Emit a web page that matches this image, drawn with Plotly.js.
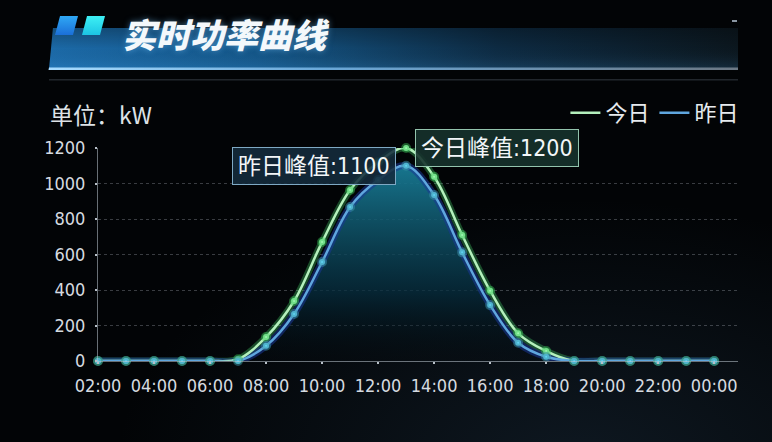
<!DOCTYPE html>
<html>
<head>
<meta charset="utf-8">
<script src="https://cdn.plot.ly/plotly-3.0.1.min.js"></script>
<style>
  html, body { margin: 0; padding: 0; background: #020406; }
  #chart { width: 772px; height: 442px; }
</style>
</head>
<body>
<div id="chart"></div>
<script>
// hourly points, 02:00 through midnight
const hours = ["02:00", "03:00", "04:00", "05:00", "06:00", "07:00", "08:00", "09:00", "10:00", "11:00", "12:00", "13:00",
  "14:00", "15:00", "16:00", "17:00", "18:00", "19:00", "20:00", "21:00", "22:00", "23:00", "00:00"];
const today = [0, 0, 0, 0, 0, 10, 135, 338, 670, 963, 1120, 1200, 1038, 710, 396, 156, 56, 0, 0, 0, 0, 0, 0];
const yesterday = [0, 0, 0, 0, 0, 0, 86, 265, 558, 868, 1020, 1100, 935, 612, 315, 103, 24, 0, 0, 0, 0, 0, 0];
const seriesNames = ["今日", "昨日"];
const yTicks = [0, 200, 400, 600, 800, 1000, 1200];

const W = 772, H = 442;
const M = { l: 98, r: 34, t: 148, b: 81 };
const PW = W - M.l - M.r;
const PH = H - M.t - M.b;
// pixel -> paper helpers for the decorations
const px = (x) => (x - M.l) / PW;
const py = (y) => (H - M.b - y) / PH;

const NUM = '"Liberation Sans Narrow", "DejaVu Sans Condensed", "Noto Sans CJK SC", sans-serif';
const CJK = '"Noto Sans CJK SC", "Noto Sans", sans-serif';

function backdrop() {
  const svg = `<svg xmlns="http://www.w3.org/2000/svg" width="${W}" height="${H}" viewBox="0 0 ${W} ${H}">
<defs>
<linearGradient id="bar" x1="0" x2="1" y1="0" y2="0">
<stop offset="0" stop-color="#1d6fb0"/><stop offset="0.3" stop-color="#155a8e"/>
<stop offset="0.65" stop-color="#0e2d46"/><stop offset="1" stop-color="#0c1820"/>
</linearGradient>
<linearGradient id="shade" x1="0" x2="0" y1="0" y2="1">
<stop offset="0" stop-color="#000" stop-opacity="0.3"/><stop offset="0.5" stop-color="#000" stop-opacity="0.05"/>
<stop offset="1" stop-color="#4aa0e0" stop-opacity="0.15"/>
</linearGradient>
<linearGradient id="edge" x1="0" x2="1">
<stop offset="0" stop-color="#a8dcff"/><stop offset="0.4" stop-color="#6aa8d8"/><stop offset="1" stop-color="#6c7884"/>
</linearGradient>
<linearGradient id="q1" x1="0" x2="0" y1="0" y2="1"><stop offset="0" stop-color="#2fa8f5"/><stop offset="1" stop-color="#1b6fd8"/></linearGradient>
<linearGradient id="q2" x1="0" x2="0" y1="0" y2="1"><stop offset="0" stop-color="#3ef0f4"/><stop offset="1" stop-color="#1cc4e4"/></linearGradient>
<radialGradient id="haze" cx="0.75" cy="1.05" r="0.6">
<stop offset="0" stop-color="#2a4660" stop-opacity="0.3"/><stop offset="1" stop-color="#2a4660" stop-opacity="0"/>
</radialGradient>
</defs>
<rect width="${W}" height="${H}" fill="#020406"/>
<rect width="${W}" height="${H}" fill="url(#haze)"/>
<polygon points="53,28 738,28 738,69 49,69" fill="url(#bar)"/>
<polygon points="53,28 738,28 738,69 49,69" fill="url(#shade)"/>
<polygon points="49,67.5 738,67.5 738,70 48.5,70" fill="url(#edge)"/>
<rect x="49" y="79" width="689" height="1.5" fill="#6a7886" opacity="0.3"/>
<polygon points="60,16 78,16 73,35 55,35" fill="url(#q1)"/>
<polygon points="87,16 105,16 100,35 82,35" fill="url(#q2)"/>
<rect x="732" y="20" width="5" height="2" fill="#8a96a2"/>
</svg>`;
  return "data:image/svg+xml;charset=utf-8," + encodeURIComponent(svg);
}

const spline = { shape: "spline", smoothing: 1 };
const peakIdx = (arr) => arr.indexOf(Math.max(...arr));
const ti = peakIdx(today);
const yi = peakIdx(yesterday);

const traces = [
  {
    // area under yesterday's curve
    x: hours, y: yesterday, mode: "lines",
    line: { ...spline, width: 0 },
    fill: "tozeroy",
    fillgradient: {
      type: "vertical",
      colorscale: [[0, "rgba(2,8,12,0.2)"], [0.35, "rgba(6,45,62,0.75)"], [1, "rgba(24,124,150,0.95)"]],
    },
    hoverinfo: "skip", showlegend: false,
  },
  {
    x: hours, y: today, mode: "lines",
    line: { ...spline, width: 7, color: "rgba(70,220,110,0.32)" },
    hoverinfo: "skip", showlegend: false,
  },
  {
    x: hours, y: yesterday, mode: "lines",
    line: { ...spline, width: 7, color: "rgba(25,55,150,0.55)" },
    hoverinfo: "skip", showlegend: false,
  },
  {
    x: hours, y: today, mode: "lines", name: seriesNames[0],
    line: { ...spline, width: 2.5, color: "#b4f0bc" },
  },
  {
    x: hours, y: yesterday, mode: "lines", name: seriesNames[1],
    line: { ...spline, width: 2.5, color: "#5fa6de" },
  },
  {
    x: hours, y: today, mode: "markers", cliponaxis: false, showlegend: false,
    marker: { size: 6, color: "#9ff5b0", line: { width: 4, color: "rgba(60,200,90,0.45)" } },
  },
  {
    x: hours, y: yesterday, mode: "markers", cliponaxis: false, showlegend: false,
    marker: { size: 6, color: "#62d2f2", line: { width: 4, color: "rgba(60,150,170,0.5)" } },
  },
];

const layout = {
  width: W, height: H,
  margin: M,
  paper_bgcolor: "#020406",
  plot_bgcolor: "rgba(0,0,0,0)",
  showlegend: true,
  legend: {
    orientation: "h", x: 1.01, xanchor: "right", y: py(113), yanchor: "middle",
    font: { family: CJK, size: 22, color: "#e6eaee" },
    bgcolor: "rgba(0,0,0,0)",
  },
  xaxis: {
    type: "category",
    range: [0, 22.85],
    dtick: 2,
    showgrid: false, zeroline: false,
    showline: true, linecolor: "rgba(190,200,210,0.55)", linewidth: 1,
    ticks: "outside", ticklen: 2, tickwidth: 2, tickcolor: "#b8c0c8",
    ticklabelstandoff: 6,
    tickfont: { family: NUM, size: 18, color: "#d6dbe0" },
    fixedrange: true,
  },
  yaxis: {
    range: [0, 1200],
    tickvals: yTicks,
    showgrid: true, gridcolor: "rgba(200,210,220,0.28)", griddash: "dot", gridwidth: 1,
    zeroline: false,
    showline: true, linecolor: "rgba(190,200,210,0.55)", linewidth: 1,
    ticks: "outside", ticklen: 2, tickwidth: 2, tickcolor: "#b8c0c8",
    ticklabelstandoff: 6,
    tickfont: { family: NUM, size: 18, color: "#d6dbe0" },
    fixedrange: true,
  },
  images: [{
    source: backdrop(), xref: "paper", yref: "paper",
    x: px(0), y: py(0), sizex: W / PW, sizey: H / PH,
    xanchor: "left", yanchor: "top", sizing: "stretch", layer: "below",
  }],
  annotations: [
    {
      xref: "paper", yref: "paper", x: px(120), y: py(33), xanchor: "left", yanchor: "middle",
      text: "实时功率曲线", showarrow: false,
      font: { family: CJK, size: 34, weight: 900, style: "italic", color: "#f4f8fb", shadow: "0 0 6px rgba(120,200,255,0.5)" },
    },
    {
      xref: "paper", yref: "paper", x: px(48), y: py(114), xanchor: "left", yanchor: "middle",
      text: "单位：kW", showarrow: false,
      font: { family: CJK, size: 23, color: "#dde2e6" },
    },
    {
      xref: "x", yref: "y", x: hours[yi], y: yesterday[yi], xanchor: "right", yanchor: "middle", xshift: -10,
      text: `昨日峰值:${yesterday[yi]}`, showarrow: false,
      bgcolor: "rgba(20,44,62,0.88)", bordercolor: "#7ea9c4", borderwidth: 1, borderpad: 5,
      font: { family: NUM, size: 23, color: "#f2f6f8" },
    },
    {
      xref: "x", yref: "y", x: hours[ti], y: today[ti], xanchor: "left", yanchor: "middle", xshift: 9,
      text: `今日峰值:${today[ti]}`, showarrow: false,
      bgcolor: "rgba(22,50,44,0.9)", bordercolor: "#93c4ad", borderwidth: 1, borderpad: 5,
      font: { family: NUM, size: 23, color: "#f2f6f8" },
    },
  ],
  hovermode: false,
};

Plotly.newPlot("chart", traces, layout, { displayModeBar: false, staticPlot: true });
</script>
</body>
</html>
